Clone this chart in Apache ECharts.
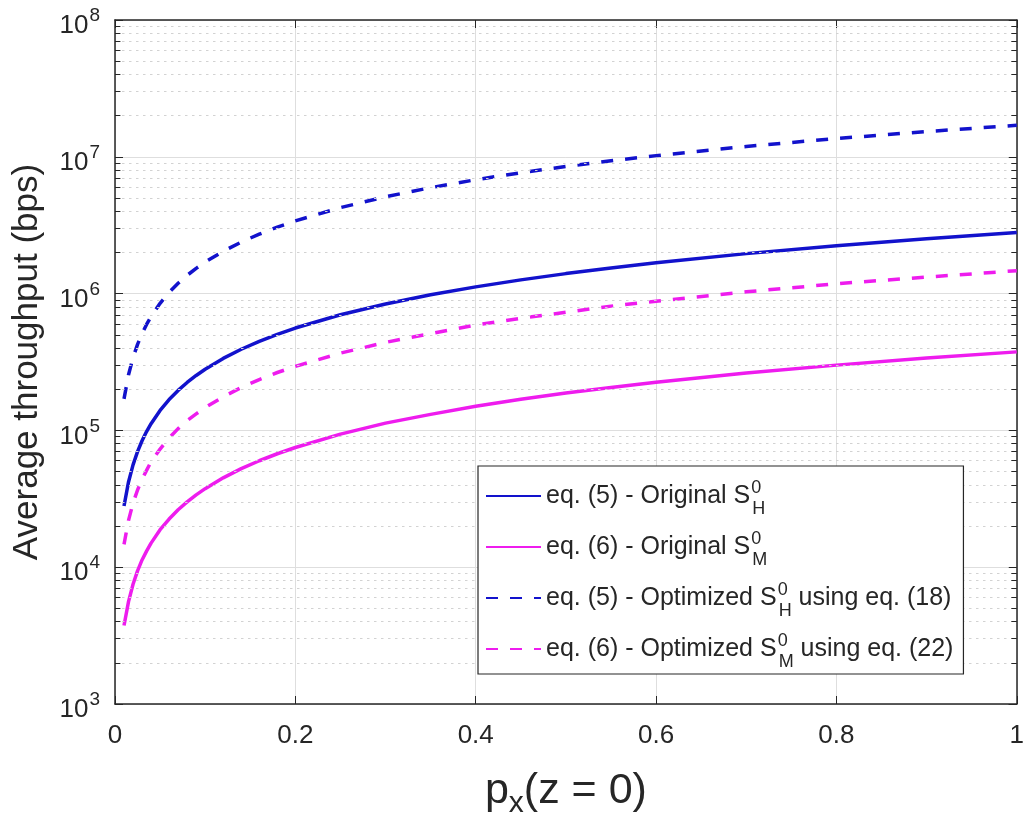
<!DOCTYPE html>
<html>
<head>
<meta charset="utf-8">
<script src="https://cdn.jsdelivr.net/npm/echarts@6/dist/echarts.min.js"></script>
<style>
html,body{margin:0;padding:0;background:#fff;}
#chart{width:1027px;height:825px;}
</style>
</head>
<body>
<div id="chart"></div>
<script>
// ---- data ----
const px = [0.01, 0.015, 0.02, 0.025, 0.03, 0.035, 0.04, 0.05, 0.06, 0.07, 0.08, 0.09, 0.1, 0.12, 0.14, 0.16, 0.18, 0.2, 0.25, 0.3, 0.35, 0.4, 0.45, 0.5, 0.55, 0.6, 0.7, 0.8, 0.9, 1.0];
const origH = [2.8e4, 4.2e4, 5.6e4, 7.0e4, 8.4e4, 9.8e4, 1.12e5, 1.4e5, 1.68e5, 1.96e5, 2.24e5, 2.52e5, 2.8e5, 3.36e5, 3.92e5, 4.48e5, 5.04e5, 5.6e5, 7.0e5, 8.4e5, 9.8e5, 1.12e6, 1.26e6, 1.4e6, 1.54e6, 1.68e6, 1.96e6, 2.24e6, 2.52e6, 2.8e6];
const origM = [3.75e3, 5.6e3, 7.5e3, 9.4e3, 1.13e4, 1.31e4, 1.5e4, 1.88e4, 2.25e4, 2.63e4, 3.0e4, 3.38e4, 3.75e4, 4.5e4, 5.25e4, 6.0e4, 6.75e4, 7.5e4, 9.4e4, 1.13e5, 1.31e5, 1.5e5, 1.69e5, 1.88e5, 2.06e5, 2.25e5, 2.63e5, 3.0e5, 3.38e5, 3.75e5];
const optH = [1.7e5, 2.55e5, 3.4e5, 4.25e5, 5.1e5, 5.95e5, 6.8e5, 8.5e5, 1.02e6, 1.19e6, 1.36e6, 1.53e6, 1.7e6, 2.04e6, 2.38e6, 2.72e6, 3.06e6, 3.4e6, 4.25e6, 5.1e6, 5.95e6, 6.8e6, 7.65e6, 8.5e6, 9.35e6, 1.02e7, 1.19e7, 1.36e7, 1.53e7, 1.7e7];
const optM = [1.47e4, 2.2e4, 2.94e4, 3.67e4, 4.4e4, 5.1e4, 5.9e4, 7.3e4, 8.8e4, 1.03e5, 1.18e5, 1.32e5, 1.47e5, 1.76e5, 2.06e5, 2.35e5, 2.65e5, 2.94e5, 3.67e5, 4.4e5, 5.1e5, 5.9e5, 6.6e5, 7.3e5, 8.1e5, 8.8e5, 1.03e6, 1.18e6, 1.32e6, 1.47e6];
const xTicks = [0, 0.2, 0.4, 0.6, 0.8, 1];
const yDecades = [1e3, 1e4, 1e5, 1e6, 1e7, 1e8];
const seriesNames = [
  'eq. (5) - Original S_H',
  'eq. (6) - Original S_M',
  'eq. (5) - Optimized S_H using eq. (18)',
  'eq. (6) - Optimized S_M using eq. (22)'
];

const BLUE = '#1212cc';
const MAG = '#ee1cee';
const FONT = 'Liberation Sans, Arial, sans-serif';
const TXT = '#262626';
const LW = 3.5;
function dash() { return [12, 12]; }

function pairs(ys) { return px.map((x, i) => [x, ys[i]]); }

// minor grid values (2..9 x 10^n)
const minorVals = [];
for (let d = 0; d < yDecades.length - 1; d++) {
  for (let k = 2; k <= 9; k++) minorVals.push(k * yDecades[d]);
}
const xMin = xTicks[0], xMax = xTicks[xTicks.length - 1];
const minorTickLen = 0.006 * (xMax - xMin);

function legendFmt(name) {
  const m = name.match(/^(.*S)_([HM])(.*)$/);
  return '{t|' + m[1] + '}{sup|0}{sub|' + m[2] + '}' + (m[3] ? '{t|' + m[3] + '}' : '');
}

const chart = echarts.init(document.getElementById('chart'), null, {renderer: 'canvas'});
const axisColor = '#262626';

const option = {
  animation: false,
  backgroundColor: '#ffffff',
  grid: {left: 115, right: 8, top: 20, bottom: 121, containLabel: false},
  xAxis: [{
    type: 'value', min: xMin, max: xMax, interval: 0.2,
    position: 'bottom',
    axisLine: {show: true, onZero: false, lineStyle: {color: axisColor, width: 1.5}},
    axisTick: {show: true, inside: true, length: 8, lineStyle: {color: axisColor}},
    axisLabel: {fontFamily: FONT, fontSize: 26, color: TXT, margin: 19,
      formatter: v => String(+v.toFixed(1))},
    splitLine: {show: true, lineStyle: {color: '#dedede', width: 1}},
    name: '{p|p}{x|x}{p|(z = 0)}',
    nameLocation: 'middle', nameGap: 64,
    nameTextStyle: {rich: {
      p: {fontFamily: FONT, fontSize: 43, color: TXT, lineHeight: 46},
      x: {fontFamily: FONT, fontSize: 30, color: TXT, lineHeight: 30, padding: [26, 0, 0, 0]}
    }}
  }, {
    type: 'value', min: xMin, max: xMax, interval: 0.2,
    position: 'top',
    axisLine: {show: true, onZero: false, lineStyle: {color: axisColor, width: 1.5}},
    axisTick: {show: true, inside: true, length: 8, lineStyle: {color: axisColor}},
    axisLabel: {show: false},
    splitLine: {show: false}
  }],
  yAxis: [{
    type: 'log', logBase: 10, min: yDecades[0], max: yDecades[yDecades.length - 1],
    axisLine: {show: true, onZero: false, lineStyle: {color: axisColor, width: 1.5}},
    axisTick: {show: true, inside: true, length: 8, lineStyle: {color: axisColor}},
    axisLabel: {margin: 15, formatter: v => '{b|10}{s|' + Math.round(Math.log10(v)) + '}',
      rich: {
        b: {fontFamily: FONT, fontSize: 26, color: TXT, lineHeight: 26, padding: [12, 0, 0, 0]},
        s: {fontFamily: FONT, fontSize: 19, color: TXT, lineHeight: 19, padding: [0, 0, 8, 1]}
      }},
    splitLine: {show: true, lineStyle: {color: '#dedede', width: 1}},
    name: 'Average throughput (bps)',
    nameLocation: 'middle', nameGap: 70,
    nameTextStyle: {fontFamily: FONT, fontSize: 35, color: TXT}
  }, {
    type: 'log', logBase: 10, min: yDecades[0], max: yDecades[yDecades.length - 1],
    position: 'right',
    axisLine: {show: true, onZero: false, lineStyle: {color: axisColor, width: 1.5}},
    axisTick: {show: true, inside: true, length: 8, lineStyle: {color: axisColor}},
    axisLabel: {show: false},
    splitLine: {show: false}
  }],
  legend: {
    orient: 'vertical',
    left: 478, top: 466,
    z: 10,
    data: seriesNames,
    itemWidth: 55, itemHeight: 14, itemGap: 7,
    padding: [8, 10, 3, 7],
    backgroundColor: '#ffffff',
    borderColor: '#262626', borderWidth: 1.2,
    selectedMode: false,
    itemStyle: {opacity: 0},
    formatter: legendFmt,
    textStyle: {
      rich: {
        t: {fontFamily: FONT, fontSize: 25, color: TXT, lineHeight: 26},
        sup: {fontFamily: FONT, fontSize: 18, color: TXT, lineHeight: 18, width: 0, padding: [0, 0, 16, 1]},
        sub: {fontFamily: FONT, fontSize: 18, color: TXT, lineHeight: 18, padding: [26, 0, 0, 1]}
      }
    }
  },
  series: [
    {
      name: '_minorgrid', type: 'line', data: [], z: 1, silent: true,
      markLine: {
        silent: true, symbol: ['none', 'none'], animation: false,
        label: {show: false},
        lineStyle: {color: '#d2d2d2', type: [2.5, 4.5], width: 1},
        emphasis: {disabled: true},
        data: minorVals.map(v => ({yAxis: v}))
      }
    },
    {
      name: '_minorticks', type: 'line', data: [], z: 2, silent: true,
      markLine: {
        silent: true, symbol: ['none', 'none'], animation: false,
        label: {show: false},
        lineStyle: {color: axisColor, type: 'solid', width: 1},
        emphasis: {disabled: true},
        data: minorVals.map(v => [{coord: [xMin, v]}, {coord: [xMin + minorTickLen, v]}])
          .concat(minorVals.map(v => [{coord: [xMax - minorTickLen, v]}, {coord: [xMax, v]}]))
      }
    },
    {name: seriesNames[0], type: 'line', data: pairs(origH), showSymbol: false, symbol: 'none', smooth: false, z: 3,
      lineStyle: {color: BLUE, width: LW}, itemStyle: {color: BLUE}},
    {name: seriesNames[1], type: 'line', data: pairs(origM), showSymbol: false, symbol: 'none', smooth: false, z: 3,
      lineStyle: {color: MAG, width: LW}, itemStyle: {color: MAG}},
    {name: seriesNames[2], type: 'line', data: pairs(optH), showSymbol: false, symbol: 'none', smooth: false, z: 3,
      lineStyle: {color: BLUE, width: LW, type: dash()}, itemStyle: {color: BLUE}},
    {name: seriesNames[3], type: 'line', data: pairs(optM), showSymbol: false, symbol: 'none', smooth: false, z: 3,
      lineStyle: {color: MAG, width: LW, type: dash()}, itemStyle: {color: MAG}}
  ]
};
chart.setOption(option);
</script>
</body>
</html>
